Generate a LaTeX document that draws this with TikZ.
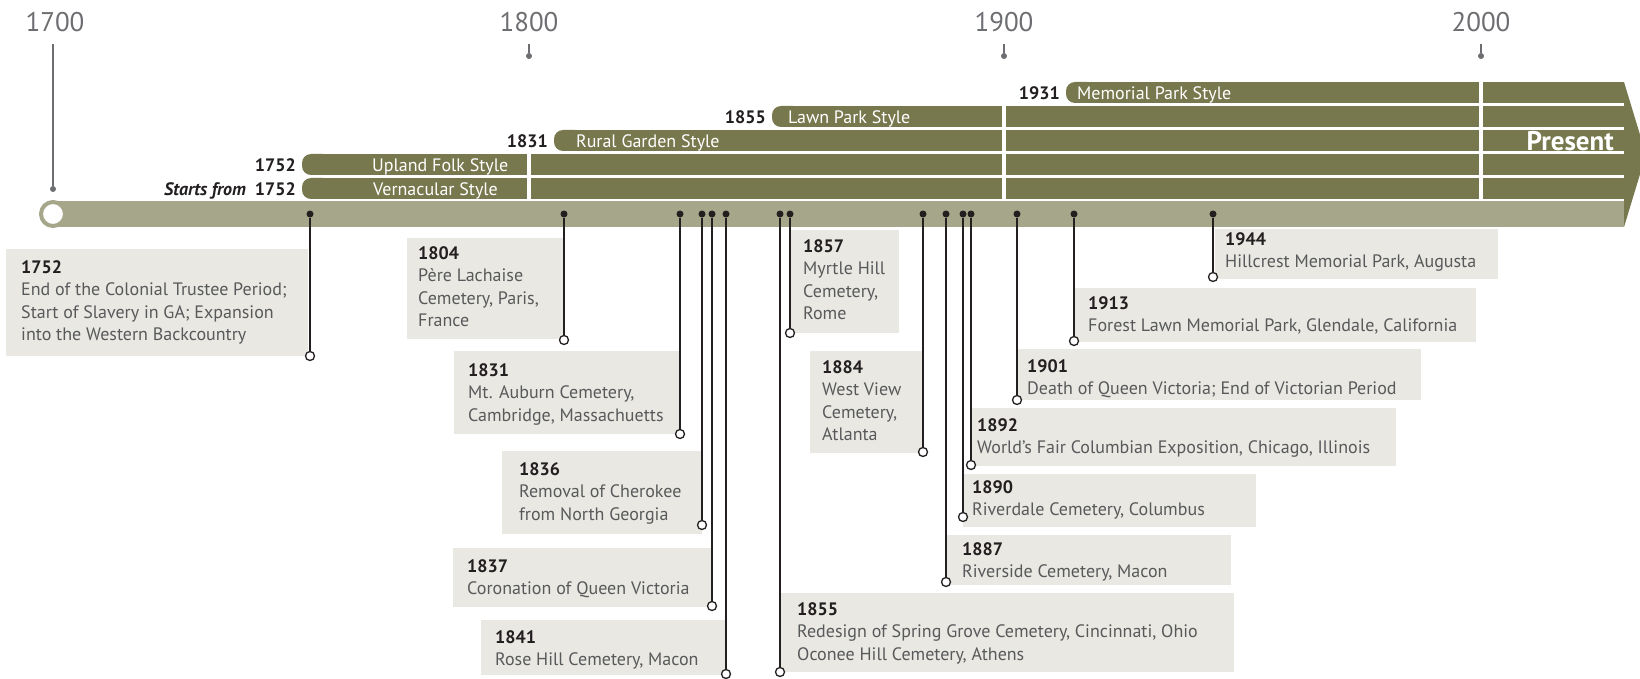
\documentclass[tikz,border=0pt]{standalone}
\usepackage{fontspec}
\setmainfont{PT Sans}
\definecolor{olivebar}{HTML}{78784E}
\definecolor{axisbar}{HTML}{A6A68A}
\definecolor{notebox}{HTML}{E9E8E2}
\definecolor{notetext}{HTML}{58595B}
\definecolor{ink}{HTML}{231F20}
\definecolor{tickgrey}{HTML}{6D6E71}

\begin{document}
\begin{tikzpicture}[x=1pt,y=-1pt,
    yearlab/.style={anchor=base,inner sep=0pt,text=tickgrey,font=\fontsize{27}{32}\selectfont},
    tickdot/.style={circle,fill=tickgrey,inner sep=0pt,minimum size=6pt},
    tickline/.style={tickgrey,line width=2pt},
    rowtxt/.style={anchor=base west,inner sep=0pt,text=white,font=\fontsize{18}{22}\selectfont},
    rowyear/.style={anchor=base east,inner sep=0pt,text=ink,font=\fontsize{18}{22}\selectfont\bfseries},
    pindot/.style={circle,fill=ink,inner sep=0pt,minimum size=7pt},
    pinend/.style={circle,draw=ink,line width=1.3pt,fill=white,inner sep=0pt,minimum size=9pt},
    stemline/.style={ink,line width=2pt},
    notetxt/.style={anchor=north west,align=left,inner sep=0pt,text=notetext,font=\fontsize{18}{22.5}\selectfont}]
  \useasboundingbox (0,0) rectangle (1640,679);
  \clip (0,0) rectangle (1640,679);

  \foreach \c/\x in {1700/55,1800/529,1900/1004,2000/1481}
    \node[yearlab] (c\c) at (\x,32) {\c};
  \foreach \c/\x in {1800/529,1900/1004,2000/1481} {
    \node[tickdot] (k\c) at (\x,56) {};
    \draw[tickline,shorten <=11pt] (c\c.south) -- (k\c);
  }
  \node[tickdot] (k1700) at (53,189) {};
  \draw[tickline,shorten <=11pt] (c1700.south -| k1700) -- (k1700);

  \foreach \yt/\xl/\tx/\name/\yr [count=\i] in {82/1066/1077/Memorial Park Style/1931,
      106/772/788/Lawn Park Style/1855, 130/554/576/Rural Garden Style/1831,
      154/302/372/Upland Folk Style/1752,
      178/302/373/Vernacular Style/{\textit{Starts from}\enspace 1752}} {
    \fill[olivebar,rounded corners=9pt] (\xl,\yt) rectangle (\xl+30,\yt+21);
    \fill[olivebar] (\xl+15,\yt) rectangle (1624,\yt+21);
    \node[rowtxt] (s\i) at (\tx,\yt+17.5) {\name};
    \node[rowyear] (y\i) at (\xl-6,\yt+17.5) {\yr};
  }
  \draw[white,line width=3.5pt] (529,154) -- (529,199) (1004,106) -- (1004,199) (1481,82) -- (1481,199);

  \fill[axisbar] (53,201) rectangle (1624,227);
  \fill[olivebar] (1624,82) -- (1646,154.5) -- (1624,227) -- cycle;
  \node[anchor=base east,inner sep=0pt,text=white,font=\fontsize{27}{32}\selectfont\bfseries] (now) at (1614,151) {Present};
  \node[circle,draw=axisbar,line width=4pt,fill=white,inner sep=0pt,minimum size=24pt] (start) at (53,214) {};

  \foreach \yr/\px/\cy/\bl/\bt/\br/\bb/\tx/\ty/\txt in {
      1752/310/356/6/249/308/356/21/273/{End of the Colonial Trustee Period;\\Start of Slavery in GA; Expansion\\into the Western Backcountry},
      1804/564/340/407/238/564/339/418/259/{Père Lachaise\\Cemetery, Paris,\\France},
      1831/680/434/454/351/679/434/468/376/{Mt. Auburn Cemetery,\\Cambridge, Massachuetts},
      1836/702/525/502/451/702/534/519/475/{Removal of Cherokee\\from North Georgia},
      1837/712/606/453/548/711/607/467/572/{Coronation of Queen Victoria},
      1841/726/674/481/620/725/675/495/643/{Rose Hill Cemetery, Macon},
      1855/780/672/781/593/1234/672/797/615/{Redesign of Spring Grove Cemetery, Cincinnati, Ohio\\Oconee Hill Cemetery, Athens},
      1857/790/333/791/230/899/333/803/252/{Myrtle Hill\\Cemetery,\\Rome},
      1884/923/452/810/351/923/453/822/373/{West View\\Cemetery,\\Atlanta},
      1887/946/582/947/535/1231/585/962/555/{Riverside Cemetery, Macon},
      1890/963/517/963/474/1256/527/972/493/{Riverdale Cemetery, Columbus},
      1892/971/465/971/408/1396/466/977/431/{World’s Fair Columbian Exposition, Chicago, Illinois},
      1901/1017/400/1017/349/1421/400/1027/372/{Death of Queen Victoria; End of Victorian Period},
      1913/1074/341/1075/288/1476/342/1088/309/{Forest Lawn Memorial Park, Glendale, California},
      1944/1213/277/1215/229/1498/279/1225/245/{Hillcrest Memorial Park, Augusta}} {
    \fill[notebox] (\bl,\bt) rectangle (\br,\bb);
    \node[notetxt] (t\yr) at (\tx,\ty-12.7) {\textcolor{ink}{\bfseries\yr}\\\txt};
    \node[pindot] (d\yr) at (\px,214) {};
    \node[pinend] (e\yr) at (\px,\cy) {};
    \draw[stemline] (d\yr) -- (e\yr);
  }
\end{tikzpicture}
\end{document}
